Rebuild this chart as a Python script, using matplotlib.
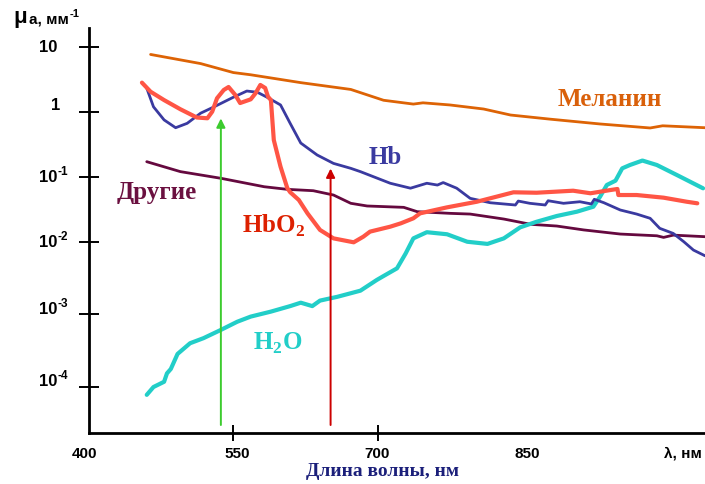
import numpy as np
import matplotlib
matplotlib.use('Agg')
import matplotlib.pyplot as plt

plt.rcParams['mathtext.fontset'] = 'custom'
plt.rcParams['mathtext.rm'] = 'Liberation Serif:bold'

# data (wavelength, nm  ->  absorption, 1/mm)
melanin_nm = [464, 516, 550, 568, 620, 672, 706, 737, 747, 775, 810, 838, 879, 931, 983, 996, 1040]
melanin = [7.6, 5.5, 4.0, 3.7, 2.8, 2.2, 1.5, 1.31, 1.37, 1.27, 1.10, 0.89, 0.77, 0.65, 0.565, 0.61, 0.57]

hb_nm = [460, 467, 478, 490, 502, 516, 530, 550, 564, 575, 585, 599, 609, 620, 637, 654, 672, 682, 713, 734,
         751, 762, 768, 782, 796, 817, 843, 846, 858, 874, 877, 893, 910, 922, 925, 935, 952, 969, 983, 993,
         1007, 1018, 1028, 1040]
hb = [2.3, 1.19, 0.75, 0.57, 0.665, 0.95, 1.19, 1.67, 2.08, 1.99, 1.67, 1.27, 0.665, 0.333, 0.219, 0.163, 0.137, 0.122, 0.081, 0.068,
      0.081, 0.076, 0.083, 0.068, 0.0475, 0.0406, 0.0375, 0.0431, 0.0398, 0.0375, 0.0436, 0.0398, 0.0421, 0.0389, 0.0459, 0.0406, 0.0314, 0.0272, 0.0234, 0.0164,
      0.0137, 0.0102, 0.0078, 0.0065]

hbo2_nm = [455, 464, 478, 495, 512, 523, 528, 533, 540, 545, 552, 557, 568, 573, 578, 583, 586, 589, 592, 599,
           606, 609, 618, 627, 640, 654, 675, 685, 692, 713, 724, 737, 744, 772, 803, 841, 865, 903, 921, 942,
           949, 950, 969, 997, 1021, 1032]
hbo2 = [2.8, 2.03, 1.51, 1.09, 0.816, 0.794, 1.0, 1.61, 2.16, 2.40, 1.81, 1.36, 1.55, 1.92, 2.58, 2.32, 1.70, 1.51, 0.37, 0.145,
        0.0684, 0.059, 0.0448, 0.0279, 0.0155, 0.0115, 0.0100, 0.0122, 0.0146, 0.0174, 0.0196, 0.0234, 0.0279, 0.0345, 0.0421, 0.0588, 0.0579, 0.0622, 0.0568, 0.0638,
        0.0661, 0.0534, 0.0534, 0.0486, 0.0421, 0.0398]

other_nm = [460, 495, 537, 582, 606, 633, 654, 672, 689, 727, 741, 775, 796, 831, 859, 886, 914, 952, 990, 997, 1007, 1040]
other = [0.173, 0.122, 0.0966, 0.0716, 0.0653, 0.0622, 0.0534, 0.0398, 0.0362, 0.0345, 0.0296, 0.0279, 0.0272, 0.0228, 0.0189,
         0.0178, 0.0155, 0.0134, 0.0126, 0.0119, 0.0129, 0.0122]

h2o_nm = [460, 467, 478, 481, 485, 492, 505, 519, 537, 554, 568, 589, 609, 620, 632, 640, 658, 682, 699, 706,
          720, 729, 737, 751, 772, 793, 814, 831, 848, 865, 886, 907, 924, 931, 938, 947, 954, 962, 975, 990,
          1011, 1038]
h2o = [7.8e-5, 1.0e-4, 1.18e-4, 1.54e-4, 1.77e-4, 2.85e-4, 4.0e-4, 4.7e-4, 6.1e-4, 7.9e-4, 9.3e-4, 1.09e-3, 1.30e-3, 1.45e-3, 1.30e-3, 1.55e-3, 1.75e-3, 2.13e-3, 3.0e-3, 3.4e-3,
       4.35e-3, 7.0e-3, 0.0115, 0.0143, 0.0133, 0.0102, 0.0095, 0.0115, 0.0170, 0.0207, 0.0254, 0.0296, 0.0353, 0.0504, 0.0762, 0.0887, 0.137, 0.154, 0.180, 0.154,
       0.108, 0.0677]

green_nm, green_top = 537, 0.79
red_nm, red_top = 651, 0.136
arrow_base = 3.0e-5

x_ticks = [400, 550, 700, 850]

# the original axis is not a clean log axis: lower decades are taller
KNOT_LOG = [-4, -3, -2, -1, 0, 1]
KNOT_POS = [0.0, 72.7, 144.7, 209.7, 275.3, 340.3]


def fwd(v):
    lv = np.log10(np.maximum(v, 1e-12))
    p = np.interp(lv, KNOT_LOG, KNOT_POS)
    p = np.where(lv < -4, (lv + 4) * 72.7, p)
    p = np.where(lv > 1, 340.3 + (lv - 1) * 65.0, p)
    return p


def inv(p):
    lv = np.interp(p, KNOT_POS, KNOT_LOG)
    lv = np.where(p < 0, -4 + p / 72.7, lv)
    lv = np.where(p > 340.3, 1 + (p - 340.3) / 65.0, lv)
    return 10 ** lv


W, H = 705, 484
fig = plt.figure(figsize=(W / 100, H / 100), dpi=100, facecolor='white')
ax = fig.add_axes([89 / W, 1 - 433 / H, 1 - 89 / W, (433 - 28) / H])
ax.set_yscale('function', functions=(fwd, inv))


def px(x, y):
    return x / W, 1 - y / H


ax.plot(melanin_nm, melanin, color='#DD6305', lw=2.0, solid_capstyle='round')
ax.plot(other_nm, other, color='#65093F', lw=2.0, solid_capstyle='round')
ax.plot(h2o_nm, h2o, color='#22CEC8', lw=3.0, solid_capstyle='round')
ax.plot(hb_nm, hb, color='#3A3AA0', lw=2.0, solid_capstyle='round')
ax.plot(hbo2_nm, hbo2, color='#FF5545', lw=3.0, solid_capstyle='round')

ax.annotate('', xy=(green_nm, green_top), xytext=(green_nm, arrow_base),
            arrowprops=dict(arrowstyle='-|>', color='#3CCB2E', lw=1.4, mutation_scale=13, shrinkA=0, shrinkB=0))
ax.annotate('', xy=(red_nm, red_top), xytext=(red_nm, arrow_base),
            arrowprops=dict(arrowstyle='-|>', color='#CC0000', lw=1.4, mutation_scale=13, shrinkA=0, shrinkB=0))

ax.set_xlim(400, 1040)
ax.set_ylim(2.33e-5, 19.4)

for s in ['top', 'right']:
    ax.spines[s].set_visible(False)
for s in ['left', 'bottom']:
    ax.spines[s].set_linewidth(2.0)
    ax.spines[s].set_color('black')

ax.set_yticks([1e-4, 1e-3, 1e-2, 1e-1, 1, 10])
ax.yaxis.set_minor_locator(matplotlib.ticker.NullLocator())
ax.set_yticklabels([])
ax.tick_params(axis='y', direction='inout', length=14, width=1.4, color='black')
ax.set_xticks(x_ticks)
ax.set_xticklabels([])
ax.xaxis.set_minor_locator(matplotlib.ticker.NullLocator())
ax.tick_params(axis='x', direction='inout', length=12, width=1.4, color='black')
for i, t in enumerate(ax.xaxis.get_major_ticks()):
    if x_ticks[i] in (400, 850):
        t.tick1line.set_visible(False)

sans = dict(family='Liberation Sans', weight='bold', color='black')
serif = dict(family='Liberation Serif', weight='bold')

# y tick labels
fig.text(*px(39, 47.5), '10', ha='left', va='center', fontsize=12, **sans)
fig.text(*px(60, 106), '1', ha='right', va='center', fontsize=12, **sans)
for y, exp in [(177.3, '-1'), (242.3, '-2'), (309, '-3'), (381, '-4')]:
    fig.text(*px(39, y), '10', ha='left', va='center', fontsize=12, **sans)
    fig.text(*px(57.5, y - 5), exp, ha='left', va='center', fontsize=8.5, **sans)

# x tick labels
for lab, x in zip(x_ticks, [84.7, 237, 377, 527]):
    fig.text(*px(x, 454), str(lab), ha='center', va='center', fontsize=11, **sans)
fig.text(*px(683, 454), 'λ, нм', ha='center', va='center', fontsize=11, **sans)
fig.text(*px(383, 471), 'Длина волны, нм', ha='center', va='center', fontsize=14, color='#1B1F7A', **serif)

# y axis title
fig.text(*px(13, 18), 'μ', ha='left', va='center', fontsize=16, **sans)
fig.text(*px(29, 19), 'a, мм', ha='left', va='center', fontsize=11, **sans)
fig.text(*px(70, 14), '-1', ha='left', va='center', fontsize=8, **sans)

# curve labels
fig.text(*px(610, 100), 'Меланин', ha='center', va='center', fontsize=18, color='#D9600A', **serif)
fig.text(*px(385, 157), 'Hb', ha='center', va='center', fontsize=18, color='#3A3AA0', **serif)
fig.text(*px(157, 192), 'Другие', ha='center', va='center', fontsize=18, color='#6B1040', **serif)
fig.text(*px(274, 226), r'HbO$_\mathregular{2}$', ha='center', va='center', fontsize=18, color='#DD2000', **serif)
fig.text(*px(278, 343), r'H$_\mathregular{2}$O', ha='center', va='center', fontsize=18, color='#22CEC8', **serif)

fig.savefig('out.png', dpi=100)
